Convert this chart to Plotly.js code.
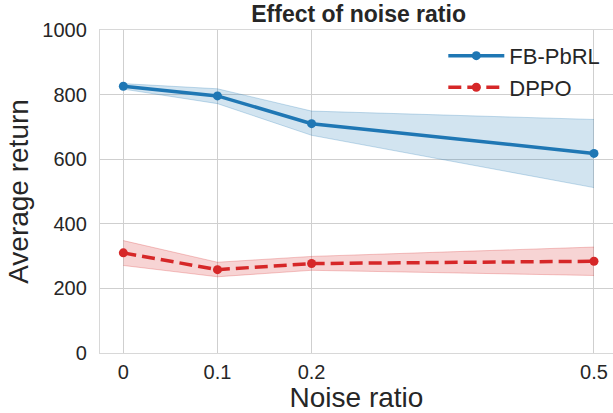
<!DOCTYPE html>
<html>
<head>
<meta charset="utf-8">
<script src="https://cdn.plot.ly/plotly-3.0.1.min.js"></script>
<style>html,body{margin:0;padding:0;background:#fff;}#chart{width:613px;height:413px;}</style>
</head>
<body>
<div id="chart"></div>
<script>
const noiseRatio = [0, 0.1, 0.2, 0.5];
const tickLabels = ["0", "0.1", "0.2", "0.5"];
const fbMean = [826, 796, 710, 618];
const fbUpper = [834, 818, 749, 723];
const fbLower = [817, 772, 674, 512];
const dppoMean = [310, 258, 277, 284];
const dppoUpper = [348, 281, 299, 328];
const dppoLower = [271, 236, 256, 240];

const blue = '#1f77b4', red = '#d62728';
const font = '"Liberation Sans", Arial, Helvetica, sans-serif';

function band(lower, upper, rgb) {
  return [
    {x: noiseRatio, y: lower, mode: 'lines', line: {color: 'rgba(' + rgb + ',0.25)', width: 1}, showlegend: false, hoverinfo: 'skip'},
    {x: noiseRatio, y: upper, mode: 'lines', fill: 'tonexty', fillcolor: 'rgba(' + rgb + ',0.2)', line: {color: 'rgba(' + rgb + ',0.25)', width: 1}, showlegend: false, hoverinfo: 'skip'}
  ];
}

const data = [
  ...band(fbLower, fbUpper, '31,119,180'),
  ...band(dppoLower, dppoUpper, '214,39,40'),
  {x: noiseRatio, y: fbMean, name: 'FB-PbRL', mode: 'lines+markers', line: {color: blue, width: 3.5}, marker: {color: blue, size: 9}},
  {x: noiseRatio, y: dppoMean, name: 'DPPO', mode: 'lines+markers', line: {color: red, width: 3.5, dash: '13px,6px'}, marker: {color: red, size: 9}}
];

const layout = {
  width: 613, height: 413,
  margin: {l: 100, r: 0, t: 30, b: 60},
  paper_bgcolor: '#fff', plot_bgcolor: '#fff',
  font: {family: font, color: '#262626'},
  title: {text: '<b>Effect of noise ratio</b>', font: {size: 23, family: font, color: '#262626'}, x: 0.585, xanchor: 'center', y: 0.966, yanchor: 'middle'},
  xaxis: {
    range: [-0.0248, 0.5202], tickvals: noiseRatio, ticktext: tickLabels,
    showgrid: true, gridcolor: '#cfcfcf', gridwidth: 1, zeroline: false,
    showline: true, linecolor: '#d8d8d8', linewidth: 1.2, mirror: true,
    ticks: '', tickfont: {size: 20}, ticklabelstandoff: 1,
    title: {text: 'Noise ratio', font: {size: 28}, standoff: 4}
  },
  yaxis: {
    range: [0, 1000], tickvals: [0, 200, 400, 600, 800, 1000],
    showgrid: true, gridcolor: '#cfcfcf', gridwidth: 1, zeroline: false,
    showline: true, linecolor: '#d8d8d8', linewidth: 1.2, mirror: true,
    ticks: '', tickfont: {size: 20}, ticklabelstandoff: 8,
    title: {text: 'Average return', font: {size: 28}, standoff: 5}
  },
  legend: {x: 0.985, xanchor: 'right', y: 0.985, yanchor: 'top', bgcolor: 'rgba(0,0,0,0)', font: {size: 22}, itemwidth: 56, traceorder: 'normal'},
  showlegend: true
};

Plotly.newPlot('chart', data, layout, {displayModeBar: false, staticPlot: true});
</script>
</body>
</html>
